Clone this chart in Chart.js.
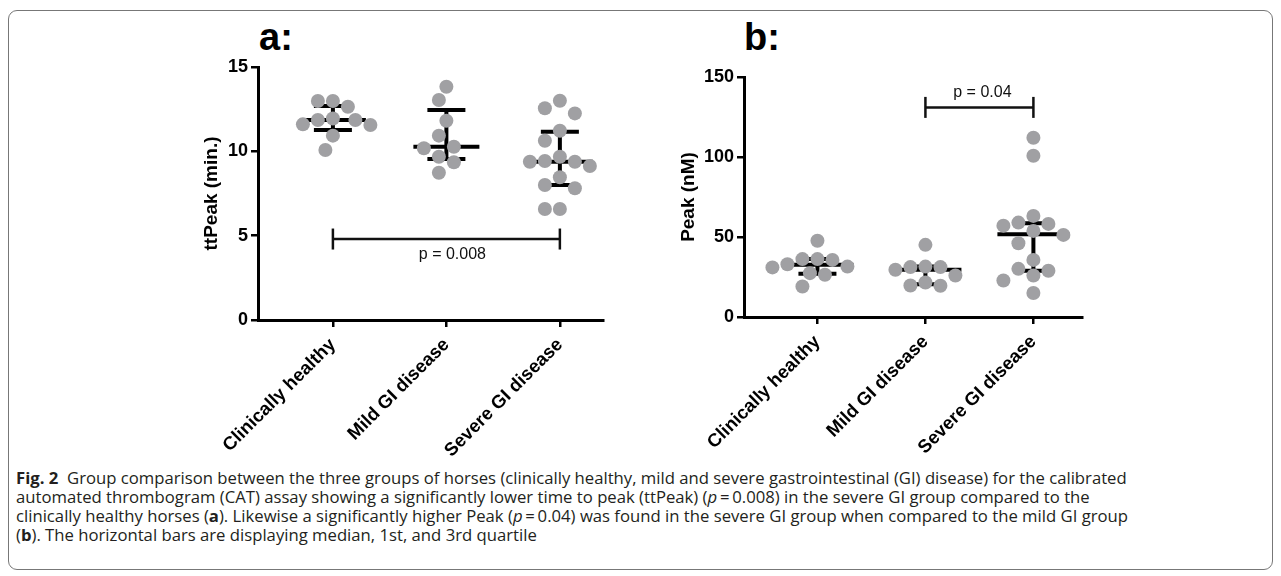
<!DOCTYPE html>
<html>
<head>
<meta charset="utf-8">
<script src="https://cdn.jsdelivr.net/npm/chart.js@4.4.1/dist/chart.umd.min.js"></script>
<style>
  body { margin: 0; background: #fff; width: 1281px; height: 576px; position: relative; overflow: hidden; }
  #frame { position: absolute; left: 8px; top: 10px; width: 1265px; height: 560px; border: 1px solid #777; border-radius: 9px; box-sizing: border-box; }
  .panel { position: absolute; top: 0; }
  .tag { position: absolute; top: 18px; font: bold 38px 'Liberation Sans', Arial, sans-serif; line-height: 1; color: #000; }
  #caption { position: absolute; left: 16px; top: 468px; font-family: 'Open Sans', sans-serif; font-size: 16.7px; line-height: 19px; color: #231f20; }
  #caption div { white-space: nowrap; }
</style>
</head>
<body>
<div id="frame"></div>
<div class="tag" style="left:259px">a:</div>
<div class="tag" style="left:744px">b:</div>
<canvas id="chart-a" class="panel" style="left:150px" width="470" height="460"></canvas>
<canvas id="chart-b" class="panel" style="left:640px" width="460" height="460"></canvas>
<div id="caption">
  <div><b>Fig. 2</b>&nbsp;&nbsp;Group comparison between the three groups of horses (clinically healthy, mild and severe gastrointestinal (GI) disease) for the calibrated</div>
  <div>automated thrombogram (CAT) assay showing a significantly lower time to peak (ttPeak) (<i>p</i>&#8201;=&#8201;0.008) in the severe GI group compared to the</div>
  <div>clinically healthy horses (<b>a</b>). Likewise a significantly higher Peak (<i>p</i>&#8201;=&#8201;0.04) was found in the severe GI group when compared to the mild GI group</div>
  <div>(<b>b</b>). The horizontal bars are displaying median, 1st, and 3rd quartile</div>
</div>
<script>
const groups = ['Clinically healthy', 'Mild GI disease', 'Severe GI disease'];

// panel a: ttPeak (min.)
const ttPeakHealthy = [12.98, 12.98, 12.64, 11.95, 11.86, 11.86, 11.6, 11.56, 10.93, 10.08];
const ttPeakMild = [13.83, 13.04, 11.81, 10.93, 10.27, 10.18, 9.68, 9.35, 8.73];
const ttPeakSevere = [13.0, 12.55, 12.25, 11.22, 10.63, 9.68, 9.43, 9.38, 9.38, 9.13, 8.46, 8.0, 7.81, 6.58, 6.58];
const ttPeakMedian = [11.86, 10.27, 9.38];
const ttPeakQ1 = [11.26, 9.54, 8.0];
const ttPeakQ3 = [12.69, 12.45, 11.16];
const ttPeakTicks = [0, 5, 10, 15];
const ttPeakSig = [0, 2, 4.8];   // from group, to group, bracket height
const ttPeakP = 'p = 0.008';

// panel b: Peak (nM)
const peakHealthy = [47.7, 36.2, 35.7, 36.2, 33.0, 31.0, 31.5, 26.4, 27.4, 19.1];
const peakMild = [45.1, 31.2, 31.2, 31.5, 29.5, 25.9, 21.6, 19.5, 19.7];
const peakSevere = [112.0, 100.8, 63.2, 57.1, 58.2, 59.0, 53.8, 51.3, 46.1, 35.7, 28.9, 30.1, 25.9, 22.8, 15.0];
const peakMedian = [32.6, 29.5, 51.7];
const peakQ1 = [27.0, 20.5, 28.9];
const peakQ3 = [36.2, 31.5, 58.6];
const peakTicks = [0, 50, 100, 150];
const peakSig = [1, 2, 131];
const peakP = 'p = 0.04';

const FONT = "'Liberation Sans', Arial, sans-serif";

// simple beeswarm: offsets in px so dots don't overlap
function swarm(vals, pxUnit, gap) {
    const order = vals.map((v, i) => i).sort((a, b) => vals[b] - vals[a]);
    const placed = [], out = [];
    order.forEach(i => {
        const py = vals[i] * pxUnit;
        for (let k = 0; k < 60; k++) {
            const dx = (k % 2 ? -1 : 1) * Math.ceil(k / 2) * gap / 2;
            if (placed.every(p => Math.hypot(p[0] - dx, p[1] - py) >= gap)) {
                placed.push([dx, py]);
                out[i] = dx;
                break;
            }
        }
    });
    return out;
}

function statsPlugin(s) {
    const seg = (ctx, x1, y1, x2, y2) => { ctx.beginPath(); ctx.moveTo(x1, y1); ctx.lineTo(x2, y2); ctx.stroke(); };
    return {
        id: 'stats',
        beforeDatasetsDraw(chart) {
            const { ctx, scales: { x, y } } = chart;
            ctx.save();
            ctx.strokeStyle = '#000';
            ctx.lineWidth = 4;
            s.median.forEach((m, i) => {
                const cx = x.getPixelForValue(i);
                const yMed = y.getPixelForValue(m), yLo = y.getPixelForValue(s.q1[i]), yHi = y.getPixelForValue(s.q3[i]);
                seg(ctx, cx, yLo, cx, yHi);
                seg(ctx, cx - s.medHalf, yMed, cx + s.medHalf, yMed);
                seg(ctx, cx - 19, yLo, cx + 19, yLo);
                seg(ctx, cx - 19, yHi, cx + 19, yHi);
            });
            ctx.restore();
        },
        afterDatasetsDraw(chart) {
            const { ctx, scales: { x, y } } = chart;
            const x1 = x.getPixelForValue(s.sig[0]), x2 = x.getPixelForValue(s.sig[1]), yy = y.getPixelForValue(s.sig[2]);
            ctx.save();
            ctx.strokeStyle = '#111';
            ctx.lineWidth = 2.5;
            seg(ctx, x1, yy, x2, yy);
            seg(ctx, x1, yy - 10.5, x1, yy + 10.5);
            seg(ctx, x2, yy - 10.5, x2, yy + 10.5);
            ctx.fillStyle = '#111';
            ctx.font = '16px ' + FONT;
            ctx.textAlign = 'center';
            if (s.pBelow) {
                ctx.textBaseline = 'top';
                ctx.fillText(s.p, (x1 + x2) / 2 + 6, yy + 8);
            } else {
                ctx.textBaseline = 'alphabetic';
                ctx.fillText(s.p, (x1 + x2) / 2 + 3, yy - 10);
            }
            ctx.restore();
        }
    };
}

function makePanel(id, cfg) {
    const tickFont = { family: FONT, size: 18, weight: 'bold' };
    const chart = new Chart(document.getElementById(id), {
        type: 'scatter',
        data: {
            datasets: [{
                data: [],
                pointRadius: 7,
                pointHoverRadius: 7,
                backgroundColor: '#a0a0a3',
                borderWidth: 0
            }]
        },
        options: {
            responsive: false,
            animation: false,
            layout: { padding: cfg.padding },
            plugins: {
                legend: { display: false },
                tooltip: { enabled: false }
            },
            scales: {
                x: {
                    type: 'linear',
                    min: cfg.xMin,
                    max: cfg.xMax,
                    afterBuildTicks: sc => { sc.ticks = groups.map((g, i) => ({ value: i })); },
                    afterFit: sc => { sc.height = cfg.xHeight; },
                    ticks: {
                        autoSkip: false,
                        minRotation: 45,
                        maxRotation: 45,
                        padding: 7,
                        color: '#000',
                        font: { family: FONT, size: 18.5, weight: 'bold' },
                        callback: v => groups[v]
                    },
                    grid: { drawOnChartArea: false, drawTicks: true, tickLength: 7, color: '#000', lineWidth: 2.5 },
                    border: { display: true, color: '#000', width: 3 }
                },
                y: {
                    min: cfg.yTicks[0],
                    max: cfg.yTicks[cfg.yTicks.length - 1],
                    afterBuildTicks: sc => { sc.ticks = cfg.yTicks.map(v => ({ value: v })); },
                    afterFit: sc => { sc.width = cfg.yWidth; },
                    ticks: { padding: 3, color: '#000', font: tickFont },
                    grid: { drawOnChartArea: false, drawTicks: true, tickLength: 7, color: '#000', lineWidth: 2.5 },
                    border: { display: true, color: '#000', width: 3 },
                    title: {
                        display: true,
                        text: cfg.title,
                        color: '#000',
                        font: { family: FONT, size: 19, weight: 'bold' },
                        padding: { top: 0, bottom: 0 }
                    }
                }
            }
        },
        plugins: [statsPlugin(cfg.stats)]
    });

    const xs = chart.scales.x, ys = chart.scales.y;
    const pxCat = xs.getPixelForValue(1) - xs.getPixelForValue(0);
    const pxUnit = ys.getPixelForValue(0) - ys.getPixelForValue(1);
    const pts = [];
    cfg.series.forEach((vals, gi) => {
        swarm(vals, pxUnit, 15).forEach((dx, k) => pts.push({ x: gi + dx / pxCat, y: vals[k] }));
    });
    chart.data.datasets[0].data = pts;
    chart.update('none');
    return chart;
}

makePanel('chart-a', {
    series: [ttPeakHealthy, ttPeakMild, ttPeakSevere],
    yTicks: ttPeakTicks,
    title: 'ttPeak (min.)',
    padding: { left: 50, top: 67, right: 17, bottom: 0 },
    yWidth: 58,
    xHeight: 140,
    xMin: -0.66,
    xMax: 2.38,
    stats: { median: ttPeakMedian, q1: ttPeakQ1, q3: ttPeakQ3, medHalf: 33, sig: ttPeakSig, p: ttPeakP, pBelow: true }
});

makePanel('chart-b', {
    series: [peakHealthy, peakMild, peakSevere],
    yTicks: peakTicks,
    title: 'Peak (nM)',
    padding: { left: 37, top: 77, right: 18, bottom: 0 },
    yWidth: 67,
    xHeight: 143,
    xMin: -0.68,
    xMax: 2.45,
    stats: { median: peakMedian, q1: peakQ1, q3: peakQ3, medHalf: 36, sig: peakSig, p: peakP, pBelow: false }
});
</script>
</body>
</html>
